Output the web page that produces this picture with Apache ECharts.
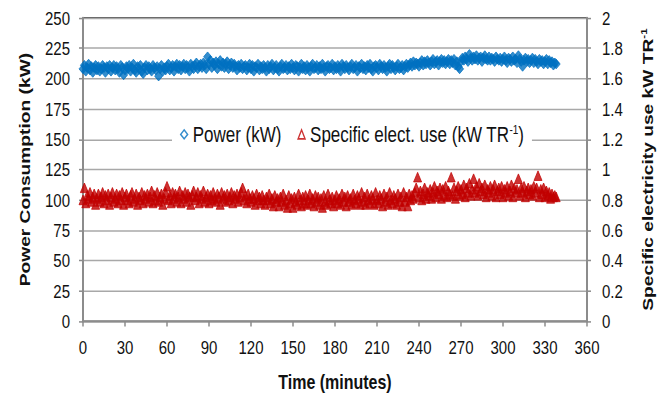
<!DOCTYPE html>
<html>
<head>
<meta charset="utf-8">
<script src="https://cdn.jsdelivr.net/npm/echarts@6/dist/echarts.min.js"></script>
<style>
  html, body { margin: 0; padding: 0; background: #fff; }
  #wrap { width: 667px; height: 396px; overflow: hidden; }
  /* the original figure is stretched vertically, text looks tall and narrow */
  #chart { width: 667px; height: 309.375px; transform: scaleY(1.28); transform-origin: 0 0; }
</style>
</head>
<body>
<div id="wrap"><div id="chart"></div></div>
<script>
// one reading per minute, minute 0 .. 338
const power = [
  208, 211, 206, 209, 212, 207, 210, 205, 209, 211,
  207, 210, 206, 208, 211, 209, 205, 210, 208, 211,
  206, 209, 211, 207, 210, 208, 205, 211, 209, 203,
  207, 210, 208, 211, 206, 209, 212, 207, 205, 210,
  208, 211, 206, 204, 209, 211, 207, 210, 208, 206,
  211, 209, 207, 210, 202, 208, 211, 206, 209, 207,
  210, 212, 207, 209, 211, 206, 210, 212, 208, 211,
  207, 210, 212, 208, 211, 209, 206, 212, 210, 208,
  211, 213, 208, 210, 212, 209, 213, 211, 208, 218,
  212, 215, 209, 213, 211, 214, 208, 212, 215, 210,
  213, 209, 212, 214, 208, 211, 213, 209, 212, 210,
  207, 211, 209, 212, 208, 210, 211, 207, 209, 212,
  208, 211, 206, 210, 209, 212, 207, 210, 208, 211,
  209, 206, 211, 208, 210, 212, 207, 209, 211, 208,
  206, 210, 212, 208, 209, 211, 207, 210, 208, 212,
  209, 207, 211, 210, 206, 209, 212, 208, 210, 207,
  211, 209, 206, 210, 212, 208, 209, 211, 207, 210,
  208, 212, 209, 206, 210, 211, 208, 209, 212, 207,
  210, 208, 211, 209, 206, 212, 210, 208, 211, 209,
  207, 210, 212, 208, 209, 211, 206, 210, 209, 212,
  208, 210, 207, 211, 209, 212, 208, 206, 210, 211,
  209, 207, 212, 210, 208, 211, 209, 206, 210, 212,
  208, 211, 209, 207, 210, 212, 208, 209, 211, 207,
  210, 212, 209, 211, 213, 210, 214, 211, 213, 212,
  210, 213, 215, 211, 214, 212, 215, 213, 211, 214,
  216, 212, 214, 215, 211, 214, 216, 213, 215, 212,
  214, 216, 212, 215, 213, 216, 211, 214, 210, 208,
  214, 217, 215, 218, 216, 214, 220, 217, 215, 218,
  216, 219, 215, 217, 218, 214, 217, 219, 216, 215,
  218, 215, 217, 216, 214, 218, 216, 215, 217, 214,
  216, 218, 215, 213, 217, 216, 214, 218, 215, 216,
  213, 219, 216, 214, 210, 215, 217, 214, 216, 213,
  215, 217, 213, 216, 214, 212, 216, 214, 215, 212,
  214, 216, 212, 215, 213, 214, 211, 213, 212
];

const specific = [
  0.80, 0.88, 0.78, 0.83, 0.81, 0.85, 0.79, 0.82, 0.84, 0.77,
  0.81, 0.84, 0.79, 0.82, 0.85, 0.78, 0.83, 0.80, 0.84, 0.77,
  0.82, 0.85, 0.79, 0.81, 0.84, 0.78, 0.83, 0.80, 0.85, 0.77,
  0.82, 0.84, 0.80, 0.78, 0.83, 0.85, 0.79, 0.81, 0.84, 0.77,
  0.82, 0.80, 0.85, 0.78, 0.83, 0.81, 0.84, 0.79, 0.82, 0.86,
  0.78, 0.83, 0.80, 0.85, 0.79, 0.82, 0.84, 0.77, 0.81, 0.85,
  0.89, 0.80, 0.83, 0.78, 0.85, 0.81, 0.84, 0.79, 0.82, 0.86,
  0.78, 0.83, 0.81, 0.85, 0.79, 0.84, 0.82, 0.77, 0.83, 0.86,
  0.80, 0.82, 0.85, 0.78, 0.83, 0.81, 0.86, 0.79, 0.82, 0.84,
  0.78, 0.83, 0.80, 0.85, 0.81, 0.79, 0.84, 0.82, 0.77, 0.85,
  0.81, 0.83, 0.79, 0.84, 0.80, 0.82, 0.85, 0.78, 0.83, 0.81,
  0.84, 0.79, 0.82, 0.85, 0.88, 0.80, 0.83, 0.78, 0.84, 0.81,
  0.79, 0.83, 0.81, 0.77, 0.84, 0.80, 0.82, 0.78, 0.83, 0.80,
  0.77, 0.82, 0.80, 0.84, 0.78, 0.81, 0.76, 0.83, 0.79, 0.81,
  0.76, 0.82, 0.79, 0.84, 0.77, 0.80, 0.75, 0.83, 0.78, 0.81,
  0.75, 0.82, 0.79, 0.77, 0.84, 0.80, 0.76, 0.82, 0.78, 0.83,
  0.77, 0.80, 0.84, 0.78, 0.81, 0.76, 0.83, 0.79, 0.82, 0.77,
  0.81, 0.75, 0.83, 0.79, 0.77, 0.84, 0.80, 0.78, 0.82, 0.76,
  0.80, 0.83, 0.78, 0.81, 0.77, 0.84, 0.79, 0.82, 0.76, 0.83,
  0.79, 0.81, 0.77, 0.84, 0.80, 0.78, 0.83, 0.81, 0.77, 0.85,
  0.79, 0.82, 0.77, 0.84, 0.80, 0.78, 0.83, 0.81, 0.77, 0.85,
  0.80, 0.78, 0.83, 0.81, 0.76, 0.84, 0.79, 0.82, 0.77, 0.85,
  0.80, 0.78, 0.83, 0.81, 0.77, 0.84, 0.79, 0.82, 0.76, 0.85,
  0.79, 0.82, 0.76, 0.84, 0.80, 0.83, 0.81, 0.85, 0.88, 0.95,
  0.82, 0.86, 0.80, 0.84, 0.88, 0.81, 0.85, 0.83, 0.87, 0.81,
  0.85, 0.89, 0.82, 0.86, 0.84, 0.88, 0.81, 0.87, 0.83, 0.89,
  0.82, 0.86, 0.84, 0.95, 0.83, 0.88, 0.81, 0.86, 0.89, 0.83,
  0.87, 0.84, 0.90, 0.82, 0.88, 0.85, 0.91, 0.83, 0.87, 0.94,
  0.85, 0.89, 0.83, 0.91, 0.86, 0.88, 0.84, 0.90, 0.82, 0.87,
  0.85, 0.89, 0.83, 0.87, 0.90, 0.82, 0.86, 0.88, 0.84, 0.89,
  0.82, 0.87, 0.85, 0.89, 0.83, 0.86, 0.90, 0.82, 0.88, 0.85,
  0.87, 0.94, 0.83, 0.88, 0.85, 0.89, 0.82, 0.86, 0.88, 0.84,
  0.87, 0.83, 0.89, 0.85, 0.88, 0.96, 0.82, 0.87, 0.84, 0.88,
  0.82, 0.86, 0.83, 0.85, 0.81, 0.84, 0.82, 0.83, 0.82
];

const xTicks = [0, 360, 30];     // min, max, step
const powerTicks = [0, 250, 25];
const specificTicks = [0, 2, 0.2];

const powerName = 'Power (kW)';
const specificName = 'Specific elect. use (kW TR-1)';
const blue = '#0070c0';
const red = '#c00000';

const chart = echarts.init(document.getElementById('chart'), null, { renderer: 'svg' });

const font = 'Liberation Sans, Arial, sans-serif';
const gridColor = '#a8a8a8';
const axisColor = '#8c8c8c';

const option = {
  animation: false,
  textStyle: { fontFamily: font },
  grid: {
    left: 83, right: 80, top: 14, bottom: 58,
    outerBoundsMode: 'none',
    show: true, borderColor: '#222', borderWidth: 1
  },
  legend: {
    left: 172, top: 93,
    backgroundColor: '#fff',
    padding: [3, 8],
    itemWidth: 7, itemHeight: 7, itemGap: 16,
    textStyle: {
      fontFamily: font, fontSize: 17, color: '#111',
      rich: { sup: { fontSize: 10, color: '#111', padding: [0, 0, 8, 0] } }
    },
    formatter: n => n === specificName ? 'Specific elect. use (kW TR{sup|-1})' : n,
    data: [
      { name: powerName, icon: 'diamond',
        itemStyle: { color: 'rgba(0,0,0,0)', borderColor: blue, borderWidth: 1.3 } },
      { name: specificName, icon: 'triangle',
        itemStyle: { color: 'rgba(0,0,0,0)', borderColor: red, borderWidth: 1.3 } }
    ]
  },
  xAxis: {
    type: 'value', min: xTicks[0], max: xTicks[1], interval: xTicks[2],
    name: 'Time (minutes)', nameLocation: 'middle', nameGap: 39,
    nameTextStyle: { fontFamily: font, fontSize: 16, fontWeight: 'bold', color: '#111' },
    axisLine: { lineStyle: { color: axisColor, width: 1.6 } },
    axisTick: { show: true, length: 4, lineStyle: { color: axisColor, width: 1.5 } },
    axisLabel: { fontFamily: font, fontSize: 15, color: '#111', margin: 13 },
    splitLine: { show: false }
  },
  yAxis: [
    {
      type: 'value', min: powerTicks[0], max: powerTicks[1], interval: powerTicks[2], position: 'left',
      name: 'Power Consumption (kW)', nameLocation: 'middle', nameGap: 51, nameRotate: 90,
      nameTextStyle: { fontFamily: font, fontSize: 15, fontWeight: 'bold', color: '#111' },
      axisLine: { show: true, lineStyle: { color: axisColor, width: 2 } },
      axisTick: { show: true, length: 4, lineStyle: { color: axisColor, width: 1.2 } },
      axisLabel: { fontFamily: font, fontSize: 15, color: '#111', margin: 13 },
      splitLine: { show: true, lineStyle: { color: gridColor, width: 1.2 } }
    },
    {
      type: 'value', min: specificTicks[0], max: specificTicks[1], interval: specificTicks[2], position: 'right',
      name: 'Specific electricity use kW TR{sup|-1}', nameLocation: 'middle', nameGap: 52, nameRotate: 90,
      nameTextStyle: {
        fontFamily: font, fontSize: 15, fontWeight: 'bold', color: '#111',
        rich: { sup: { fontSize: 9, fontWeight: 'bold', color: '#111', padding: [0, 0, 8, 0] } }
      },
      axisLine: { show: true, lineStyle: { color: axisColor, width: 2 } },
      axisTick: { show: true, length: 4, lineStyle: { color: axisColor, width: 1.2 } },
      axisLabel: { fontFamily: font, fontSize: 15, color: '#111', margin: 15 },
      splitLine: { show: false }
    }
  ],
  series: [
    {
      name: powerName, type: 'scatter', yAxisIndex: 0,
      symbol: 'diamond', symbolSize: [8, 7.5],
      itemStyle: { color: blue, borderColor: blue, borderWidth: 0.8 },
      data: power.map((v, i) => [i, v])
    },
    {
      name: specificName, type: 'scatter', yAxisIndex: 1,
      symbol: 'triangle', symbolSize: [8, 7.5],
      itemStyle: { color: red, borderColor: red, borderWidth: 0.8 },
      data: specific.map((v, i) => [i, v])
    }
  ]
};

chart.setOption(option);
</script>
</body>
</html>
